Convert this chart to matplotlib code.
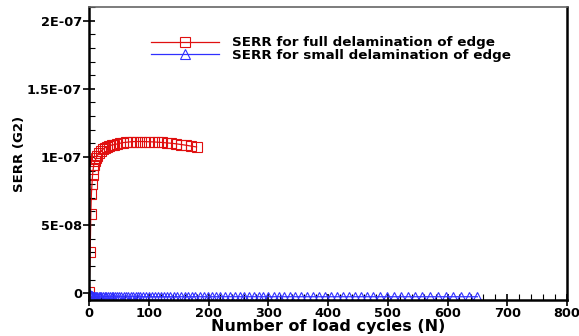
import matplotlib
matplotlib.use("Agg")
import matplotlib.pyplot as plt
from matplotlib.ticker import MultipleLocator, FuncFormatter

# full delamination of edge
full_n = [0, 2, 3, 4, 5, 6, 7, 8, 10, 12, 14, 17, 20, 23, 26, 30, 34, 38, 42,
          47, 52, 57, 62, 68, 74, 80, 87, 94, 101, 108, 115, 122, 130, 138,
          146, 154, 162, 170, 180]
full_g = [0.1e-8, 3.0e-8, 5.8e-8, 7.3e-8, 8.0e-8, 8.7e-8, 9.1e-8, 9.4e-8,
          9.7e-8, 9.9e-8, 10.1e-8, 10.3e-8, 10.45e-8, 10.55e-8, 10.65e-8,
          10.75e-8, 10.8e-8, 10.87e-8, 10.9e-8, 10.95e-8, 11.0e-8, 11.05e-8,
          11.07e-8, 11.1e-8, 11.12e-8, 11.13e-8, 11.13e-8, 11.12e-8, 11.11e-8,
          11.1e-8, 11.08e-8, 11.06e-8, 11.03e-8, 11.0e-8, 10.96e-8, 10.91e-8,
          10.86e-8, 10.8e-8, 10.73e-8]

# small delamination of edge
small_n = [0, 1, 2, 3, 4, 5, 6, 8, 10, 12, 14, 16, 18, 20, 23, 26, 29, 32, 35,
           38, 41, 44, 47, 50, 54, 58, 62, 66, 70, 74, 78, 82, 86, 90, 95, 100,
           105, 110, 115, 120, 125, 130, 136, 142, 148, 154, 160, 166, 172,
           178, 185, 192, 199, 206, 213, 220, 228, 236, 244, 252, 260, 268,
           276, 284, 292, 300, 309, 318, 327, 336, 345, 355, 365, 375, 385,
           395, 405, 415, 425, 435, 445, 455, 465, 476, 487, 498, 510, 522,
           534, 546, 558, 571, 584, 597, 610, 623, 636, 650]
small_g = [0.0e-9, -1.0e-9, -1.8e-9, -2.1e-9, -2.3e-9, -2.4e-9, -2.5e-9,
           -2.5e-9, -2.6e-9, -2.6e-9, -2.6e-9, -2.6e-9, -2.6e-9, -2.6e-9,
           -2.6e-9, -2.6e-9, -2.6e-9, -2.6e-9, -2.6e-9, -2.6e-9, -2.6e-9,
           -2.6e-9, -2.6e-9, -2.6e-9, -2.6e-9, -2.6e-9, -2.6e-9, -2.6e-9,
           -2.6e-9, -2.6e-9, -2.6e-9, -2.6e-9, -2.6e-9, -2.6e-9, -2.6e-9,
           -2.6e-9, -2.6e-9, -2.6e-9, -2.6e-9, -2.6e-9, -2.6e-9, -2.6e-9,
           -2.6e-9, -2.6e-9, -2.6e-9, -2.6e-9, -2.6e-9, -2.6e-9, -2.6e-9,
           -2.6e-9, -2.6e-9, -2.6e-9, -2.6e-9, -2.6e-9, -2.6e-9, -2.6e-9,
           -2.6e-9, -2.6e-9, -2.6e-9, -2.6e-9, -2.6e-9, -2.6e-9, -2.6e-9,
           -2.6e-9, -2.6e-9, -2.6e-9, -2.6e-9, -2.6e-9, -2.6e-9, -2.6e-9,
           -2.6e-9, -2.6e-9, -2.6e-9, -2.6e-9, -2.6e-9, -2.6e-9, -2.6e-9,
           -2.6e-9, -2.6e-9, -2.6e-9, -2.6e-9, -2.6e-9, -2.6e-9, -2.6e-9,
           -2.6e-9, -2.6e-9, -2.6e-9, -2.6e-9, -2.6e-9, -2.6e-9, -2.6e-9,
           -2.6e-9, -2.6e-9, -2.6e-9, -2.6e-9, -2.6e-9, -2.6e-9, -2.6e-9]

y_ticks = [0, 5e-8, 1e-7, 1.5e-7, 2e-7]
y_labels = ["0", "5E-08", "1E-07", "1.5E-07", "2E-07"]

plt.rcParams["font.family"] = ["DejaVu Sans"]
plt.rcParams["font.weight"] = "bold"

fig = plt.figure(figsize=(5.79, 3.36), dpi=100)
ax = fig.add_axes([89 / 579, 36 / 336, 478 / 579, 293 / 336])

ax.plot(full_n, full_g, color="#e01010", lw=0.9, marker="s", ms=6.5,
        mfc="none", mec="#e01010", mew=0.8,
        label="SERR for full delamination of edge")
ax.plot(small_n, small_g, color="#3030ff", lw=0.9, marker="^", ms=7.5,
        mfc="none", mec="#3030ff", mew=0.8,
        label="SERR for small delamination of edge")

ax.set_xlim(0, 800)
ax.set_ylim(-5e-9, 2.1e-7)
ax.xaxis.set_major_locator(MultipleLocator(100))
ax.xaxis.set_minor_locator(MultipleLocator(20))
ax.set_yticks(y_ticks)
ax.yaxis.set_major_formatter(FuncFormatter(
    lambda v, p: y_labels[y_ticks.index(v)] if v in y_ticks else ""))
ax.yaxis.set_minor_locator(MultipleLocator(1e-8))

ax.tick_params(which="major", direction="inout", length=8, width=1.2,
               labelsize=9.3, pad=1)
ax.tick_params(which="minor", direction="in", length=4, width=0.8)
for lab in ax.get_xticklabels() + ax.get_yticklabels():
    lab.set_fontweight("bold")

for side in ["left", "bottom", "right"]:
    ax.spines[side].set_linewidth(1.8)
    ax.spines[side].set_color("black")
ax.spines["top"].set_color("#666666")
ax.spines["top"].set_linewidth(1.2)

ax.set_xlabel("Number of load cycles (N)", fontsize=11.5, fontweight="bold",
              labelpad=-0.5)
ax.set_ylabel("SERR (G2)", fontsize=9.5, fontweight="bold", labelpad=1)

leg = ax.legend(loc="upper left", bbox_to_anchor=(0.116, 0.923), frameon=False,
                fontsize=9.7, handlelength=5.0, handletextpad=1.0,
                labelspacing=-0.02, borderpad=0)
for t in leg.get_texts():
    t.set_fontweight("bold")

fig.savefig("out.png", dpi=100)
